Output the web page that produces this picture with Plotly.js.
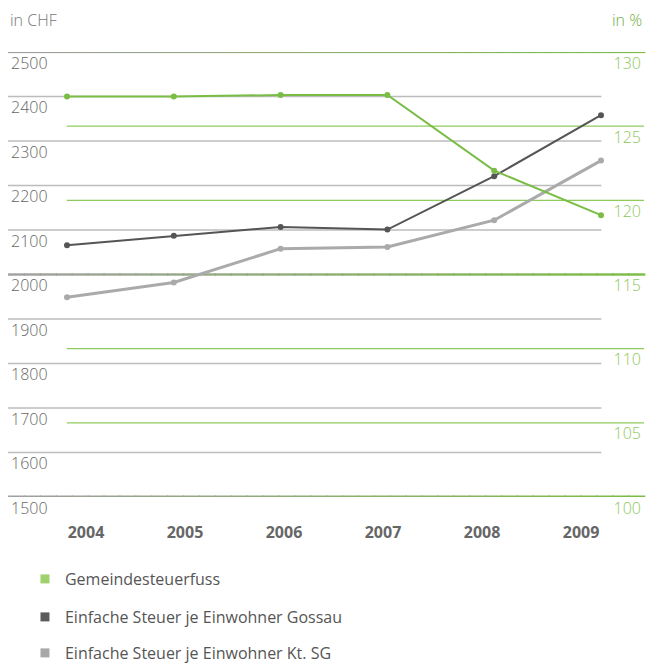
<!DOCTYPE html>
<html>
<head>
<meta charset="utf-8">
<script src="https://cdn.plot.ly/plotly-3.0.1.min.js"></script>
<style>html,body{margin:0;padding:0;background:#fff;}</style>
</head>
<body>
<div id="chart" style="width:648px;height:664px;"></div>
<script>
// ---- data ----
const years = ['2004', '2005', '2006', '2007', '2008', '2009'];
const steuerfuss = [127, 127, 127.1, 127.1, 122, 119];            // in %
const steuerGossau = [2066, 2087, 2107, 2101, 2221, 2358];         // in CHF
const steuerKtSG = [1949, 1982, 2058, 2062, 2122, 2256];           // in CHF
const seriesNames = ['Gemeindesteuerfuss', 'Einfache Steuer je Einwohner Gossau', 'Einfache Steuer je Einwohner Kt. SG'];
const chfTicks = [1500, 1600, 1700, 1800, 1900, 2000, 2100, 2200, 2300, 2400, 2500];
const pctTicks = [100, 105, 110, 115, 120, 125, 130];
const chfMajor = [1500, 2000, 2500];
const pctMajor = [100, 115, 130];

// ---- styles ----
const GREEN = '#7abd45', DARK = '#555555', LIGHT = '#aaaaaa';
const FONT = 'Open Sans, Noto Sans, sans-serif';

const traces = [
  {x: years, y: steuerfuss, yaxis: 'y2', mode: 'lines+markers', name: seriesNames[0], showlegend: false,
   line: {color: GREEN, width: 2}, marker: {color: GREEN, size: 6}, hoverinfo: 'skip'},
  {x: years, y: steuerKtSG, mode: 'lines+markers', name: seriesNames[2], showlegend: false,
   line: {color: LIGHT, width: 3}, marker: {color: LIGHT, size: 6}, hoverinfo: 'skip'},
  {x: years, y: steuerGossau, mode: 'lines+markers', name: seriesNames[1], showlegend: false,
   line: {color: DARK, width: 2}, marker: {color: DARK, size: 6}, hoverinfo: 'skip'},
];
// legend entries (square symbols) on the label axis
const legendColors = ['#9fd16c', '#5b5b5b', '#a8a8a8'];
const legendKeys = ['legend', 'legend2', 'legend3'];
seriesNames.forEach((n, i) => {
  traces.push({x: years, y: years.map(() => null), xaxis: 'x2', mode: 'markers', name: n,
    legend: legendKeys[i], marker: {symbol: 'square', size: 9, color: legendColors[i]}, hoverinfo: 'skip'});
});

// ---- shapes: gridlines ----
const shapes = [];
const minorChf = chfTicks.filter(v => !chfMajor.includes(v));
const minorPct = pctTicks.filter(v => !pctMajor.includes(v));
minorChf.forEach(v => shapes.push({type: 'line', xref: 'paper', yref: 'y', x0: 0, x1: 0.933, y0: v, y1: v,
  line: {color: '#bcbcbc', width: 1.4}, layer: 'below'}));
minorPct.forEach(v => shapes.push({type: 'line', xref: 'paper', yref: 'y2', x0: 0.0925, x1: 1, y0: v, y1: v,
  line: {color: '#8fcb5c', width: 1.4}, layer: 'below'}));
// major lines with gray -> green gradient
function mix(a, b, t) {
  const pa = [parseInt(a.substr(1,2),16), parseInt(a.substr(3,2),16), parseInt(a.substr(5,2),16)];
  const pb = [parseInt(b.substr(1,2),16), parseInt(b.substr(3,2),16), parseInt(b.substr(5,2),16)];
  return 'rgb(' + pa.map((c, k) => Math.round(c + (pb[k] - c) * t)).join(',') + ')';
}
const N = 40;
chfMajor.forEach((v, j) => {
  const w = [3, 2.4, 2.2][j];
  for (let i = 0; i < N; i++) {
    shapes.push({type: 'line', xref: 'paper', yref: 'y', x0: i / N, x1: (i + 1) / N + 0.002, y0: v, y1: v,
      line: {color: mix('#a0a0a0', '#7cbc44', i / (N - 1)), width: w}, layer: 'below'});
  }
});

const layout = {
  width: 648, height: 664,
  margin: {l: 8, r: 4, t: 52, b: 167, autoexpand: false},
  paper_bgcolor: '#ffffff', plot_bgcolor: '#ffffff',
  font: {family: FONT, size: 16, color: '#6b6b6b'},
  xaxis: {type: 'category', range: [-0.5524, 5.4026], showticklabels: false, showgrid: false,
    zeroline: false, showline: false, ticks: ''},
  xaxis2: {type: 'category', overlaying: 'x', anchor: 'y', side: 'bottom', range: [-0.7879, 5.636],
    showgrid: false, zeroline: false, showline: false, ticks: '', ticklabelstandoff: 24,
    tickfont: {family: FONT, size: 16, color: '#666666', weight: 'bold'}},
  yaxis: {range: [1500, 2500], tickvals: chfTicks, showgrid: false, zeroline: false, showline: false, ticks: '',
    ticklabelposition: 'inside', ticklabelshift: 11, ticklabelstandoff: 0, ticklabeloverflow: 'allow',
    tickfont: {family: FONT, size: 16, color: '#666666', weight: 300}},
  yaxis2: {range: [100, 130], tickvals: pctTicks, overlaying: 'y', side: 'right', showgrid: false, zeroline: false,
    showline: false, ticks: '', ticklabelposition: 'inside', ticklabelshift: 11, ticklabelstandoff: 0,
    ticklabeloverflow: 'allow', tickfont: {family: FONT, size: 16, color: '#8cc85a', weight: 300}},
  shapes: shapes,
  annotations: [
    {text: 'in CHF', xref: 'paper', yref: 'paper', x: 0, y: (497 - 20) / 445, xanchor: 'left', yanchor: 'middle',
     showarrow: false, font: {family: FONT, size: 16, color: '#777777', weight: 300}},
    {text: 'in %', xref: 'paper', yref: 'paper', x: 1, y: (497 - 20) / 445, xanchor: 'right', yanchor: 'middle',
     showarrow: false, font: {family: FONT, size: 16, color: '#6fae3a', weight: 300}},
  ],
  showlegend: true,
};
const legendPy = [579, 617, 653];
legendKeys.forEach((k, i) => {
  layout[k] = {x: 0.0267, y: (664 - legendPy[i]) / 664, yref: 'container', xanchor: 'left', yanchor: 'middle',
    bgcolor: 'rgba(0,0,0,0)', borderwidth: 0, font: {family: FONT, size: 16, color: '#555555'}};
});

Plotly.newPlot('chart', traces, layout, {displayModeBar: false, staticPlot: true});
</script>
</body>
</html>
